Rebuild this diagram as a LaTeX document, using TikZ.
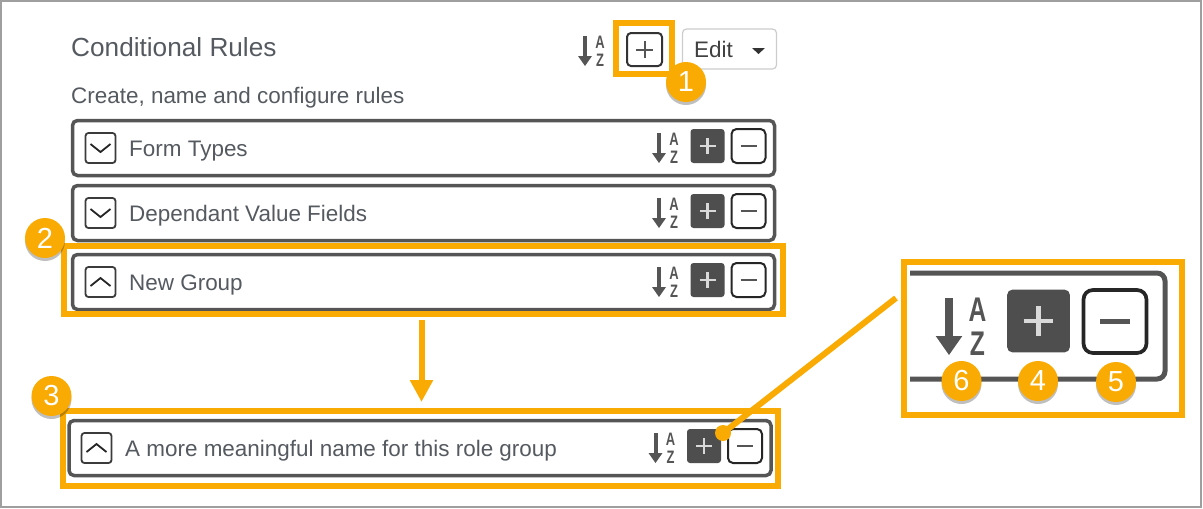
\documentclass[tikz,border=0pt]{standalone}
\usepackage{fontspec}
\setmainfont{Liberation Sans}
\usetikzlibrary{shadows,arrows.meta}
\definecolor{callout}{HTML}{F9AB04}
\definecolor{rowline}{HTML}{555555}
\definecolor{labeltext}{HTML}{555A60}
\tikzset{
  iconk/.initial=1,
  chevy/.initial=-4,
  iconlw/.style={line width=\pgfkeysvalueof{/tikz/iconk}*#1pt},
  rowbox/.style={draw=rowline,line width=3.5pt,rounded corners=5pt,fill=white,
    minimum width=702pt,minimum height=55pt},
  markbox/.style={draw=callout,line width=6pt},
  rowlabel/.style={anchor=west,inner sep=0pt,text=labeltext,yshift=-3pt,font=\fontsize{22.45}{24}\selectfont},
  badge/.style={circle,fill=callout,text=white,inner sep=0pt,minimum size=40pt,
    font=\fontsize{29}{30}\selectfont,
    drop shadow={shadow xshift=0pt,shadow yshift=-3pt,fill=black,opacity=.25}},
  azletter/.style={inner sep=0pt,text=rowline,font=\fontsize{18}{18}\selectfont\bfseries},
  sorticon/.pic={
    \draw[rowline,iconlw=4] (0,-15) -- (0,8);
    \fill[rowline] (-7,5) -- (7,5) -- (0,15) -- cycle;
    \node[azletter,xscale=.72] (-a) at (15,-9) {A};
    \node[azletter,xscale=.72] (-z) at (15,9) {Z};
  },
  plusbtn/.pic={
    \fill[rowline!92!black,rounded corners=\pgfkeysvalueof{/tikz/iconk}*3pt] (-17,-17) rectangle (17,17);
    \draw[white!85!black,iconlw=2.5] (-8,0) -- (8,0) (0,-8) -- (0,8);
  },
  minusbtn/.pic={
    \draw[black!85,fill=white,iconlw=2,rounded corners=\pgfkeysvalueof{/tikz/iconk}*5pt] (-17,-17) rectangle (17,17);
    \draw[rowline,iconlw=2.4] (-8,0) -- (8,0);
  },
  chevbtn/.pic={
    \draw[rowline!70!black,fill=white,line width=1.8pt,rounded corners=3pt] (-15,-15) rectangle (15,15);
    \draw[black!85,line width=1.8pt] (-10,\pgfkeysvalueof{/tikz/chevy}) -- (0,-\pgfkeysvalueof{/tikz/chevy}) -- (10,\pgfkeysvalueof{/tikz/chevy});
  },
}
\begin{document}
\begin{tikzpicture}[x=1pt,y=-1pt]
  \useasboundingbox (0,0) rectangle (1203,509);
  \draw[gray!75,line width=2pt] (1,1) rectangle (1201,507);

  % header
  \node[rowlabel,yshift=3pt,font=\fontsize{26.2}{28}\selectfont] (title) at (71,47) {Conditional Rules};
  \node[rowlabel] (subtitle) at (71,95) {Create, name and configure rules};
  \pic (sorttop) at (585,51) {sorticon};
  \draw[black!80,line width=2pt,rounded corners=4pt] (627,33) rectangle (662,66);
  \draw[rowline,line width=2pt] (636,49.5) -- (653,49.5) (644.5,41) -- (644.5,58);
  \node[draw=black!20,line width=1.2pt,rounded corners=4pt,minimum width=94pt,minimum height=40pt] (editbtn) at (729.5,49) {};
  \node[rowlabel,yshift=3pt,text=black!75] (edittext) at (694,49) {Edit};
  \fill[black!80] (752,48) -- (765,48) -- (758.5,54) -- cycle;

  % rows
  \node[rowbox] (formrow) at (423.5,148) {};
  \node[rowbox] (deprow) at (423.5,213) {};
  \node[rowbox] (newrow) at (423.5,282) {};
  \node[rowbox] (namedrow) at (420,448) {};

  \pic[chevy=-4] at (100.5,148) {chevbtn};
  \pic[chevy=-4] at (100.5,213) {chevbtn};
  \pic[chevy=4] at (100.5,282) {chevbtn};
  \pic[chevy=4] at (96.5,448) {chevbtn};

  \node[rowlabel] (formtext) at (129,148) {Form Types};
  \node[rowlabel] (deptext) at (129,213) {Dependant Value Fields};
  \node[rowlabel] (newtext) at (129,282) {New Group};
  \node[rowlabel] (namedtext) at (125,448) {A more meaningful name for this role group};

  \foreach \rowx/\rowy/\rowname in {0/146/form,0/211/dep,0/280/new,-3.5/446/named}{
    \pic (\rowname sort) at (659+\rowx,\rowy+2) {sorticon};
    \pic at (707.5+\rowx,\rowy) {plusbtn};
    \pic at (748.5+\rowx,\rowy) {minusbtn};
  }

  % call-out frames
  \node[markbox,minimum width=56pt,minimum height=51pt] (addframe) at (644,48.5) {};
  \node[markbox,minimum width=719pt,minimum height=68pt] (newframe) at (423.5,280) {};
  \node[markbox,minimum width=715pt,minimum height=75pt] (namedframe) at (420.5,448.5) {};

  % zoomed detail
  \node[markbox,minimum width=278pt,minimum height=153pt] (zoomframe) at (1043,338.5) {};
  \draw[rowline,line width=5pt,rounded corners=8pt] (910,273) -- (1165,273) -- (1165,379) -- (910,379);
  \pic[iconk=1.9,scale=1.9,transform shape] (zoomsort) at (949,326.5) {sorticon};
  \pic[iconk=1.85,scale=1.85,transform shape] at (1038.5,321) {plusbtn};
  \pic[iconk=1.85,scale=1.85,transform shape] at (1115,321.5) {minusbtn};

  % connectors
  \coordinate (leadtail) at (896,298);
  \coordinate (arrowfoot) at (421.5,0);
  \node[circle,fill=callout,inner sep=0pt,minimum size=16pt] (leaddot) at (723,433) {};
  \draw[callout,line width=6pt] (leadtail) -- (leaddot.center);
  \draw[callout,line width=6pt,shorten <=3pt,shorten >=6pt,-{Triangle[length=22pt,width=22pt]}] (arrowfoot |- newframe.south) -- (arrowfoot |- namedframe.north);

  % badges
  \node[badge] (mark1) at (686,82) {1};
  \node[badge] (mark2) at (45,238) {2};
  \node[badge] (mark3) at (51.5,396) {3};
  \node[badge] (mark4) at (1038,381) {4};
  \node[badge] (mark5) at (1116,382) {5};
  \node[badge] (mark6) at (961.5,381) {6};
\end{tikzpicture}
\end{document}
